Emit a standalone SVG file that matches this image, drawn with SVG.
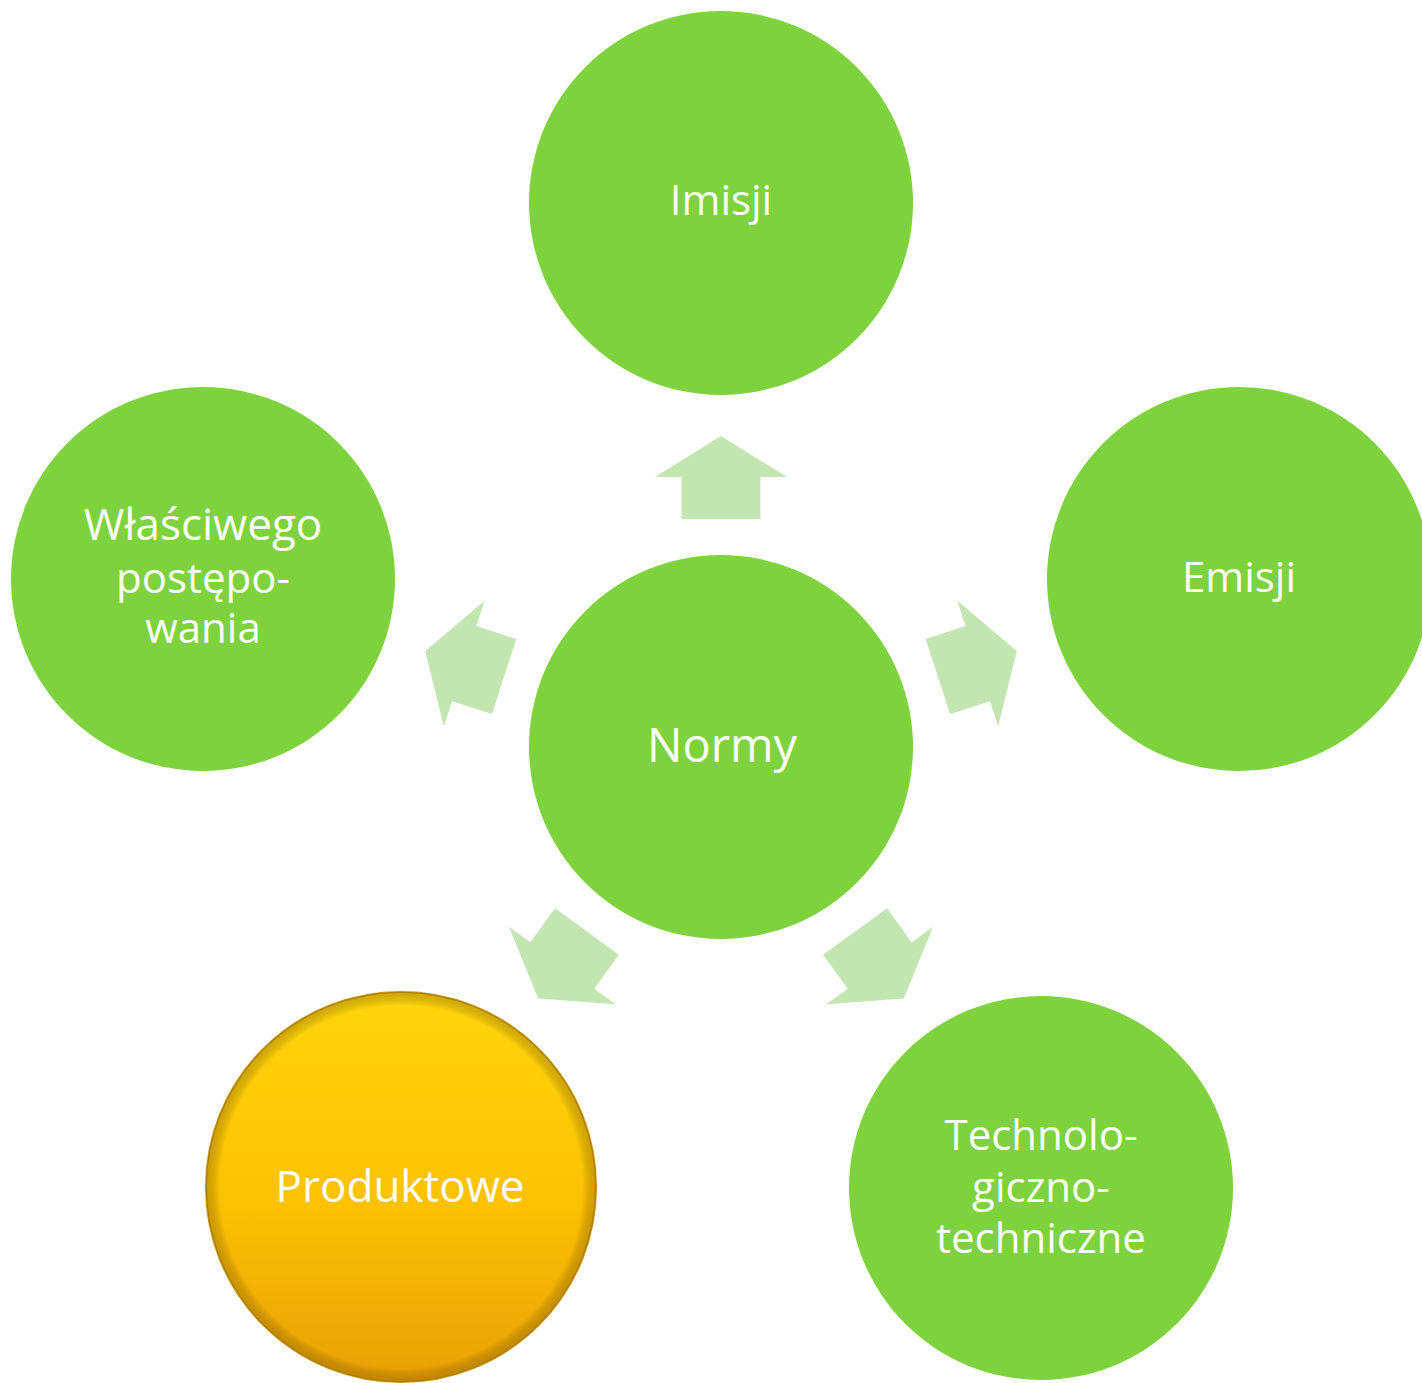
<svg xmlns="http://www.w3.org/2000/svg" width="1422" height="1383" viewBox="0 0 1422 1383">
<defs>
<style>
.node{fill:#7ED23D}
.lbl{fill:#FFFFFF;font-family:"Open Sans","Liberation Sans",sans-serif;font-size:42px;text-anchor:middle}
.big{font-size:47px}
.arr{fill:#C3E5B1}
</style>
<path id="arrowShape" d="M0,-311 L66,-270 L39.5,-270 L39.5,-228 L-39.5,-228 L-39.5,-270 L-66,-270 Z"/>
<linearGradient id="yel" x1="0" y1="0" x2="0" y2="1">
<stop offset="0" stop-color="#FFD60C"/>
<stop offset="0.55" stop-color="#FBC102"/>
<stop offset="1" stop-color="#E8A005"/>
</linearGradient>
<radialGradient id="bevel" cx="0.5" cy="0.5" r="0.5">
<stop offset="0.93" stop-color="#000" stop-opacity="0"/>
<stop offset="1" stop-color="#7a5500" stop-opacity="0.35"/>
</radialGradient>
</defs>
<rect width="1422" height="1383" fill="#FFFFFF"/>
<g id="connectors">
<use href="#arrowShape" class="arr" transform="translate(721,747)"/>
<use href="#arrowShape" class="arr" transform="translate(721,747) rotate(72)"/>
<use href="#arrowShape" class="arr" transform="translate(721,747) rotate(144)"/>
<use href="#arrowShape" class="arr" transform="translate(721,747) rotate(216)"/>
<use href="#arrowShape" class="arr" transform="translate(721,747) rotate(288)"/>
</g>
<g id="node-normy">
<circle class="node" cx="721" cy="747" r="192"/>
<text class="lbl big" x="722" y="762">Normy</text>
</g>
<g id="node-imisji">
<circle class="node" cx="721" cy="203" r="192"/>
<text class="lbl" x="721" y="215">Imisji</text>
</g>
<g id="node-emisji">
<circle class="node" cx="1239" cy="579" r="192"/>
<text class="lbl" x="1239" y="592">Emisji</text>
</g>
<g id="node-technologiczno">
<circle class="node" cx="1041" cy="1188" r="192"/>
<text class="lbl" x="1041" y="1150">Technolo-</text>
<text class="lbl" x="1041" y="1202">giczno-</text>
<text class="lbl" x="1041" y="1253">techniczne</text>
</g>
<g id="node-produktowe">
<circle cx="401" cy="1187" r="195" fill="url(#yel)" stroke="#C8940A" stroke-width="2"/>
<circle cx="401" cy="1187" r="195" fill="url(#bevel)"/>
<text class="lbl" x="400" y="1202" style="font-size:44px">Produktowe</text>
</g>
<g id="node-wlasciwego">
<circle class="node" cx="203" cy="579" r="192"/>
<text class="lbl" x="203" y="540" style="font-size:44px">Właściwego</text>
<text class="lbl" x="203" y="593">postępo-</text>
<text class="lbl" x="203" y="643">wania</text>
</g>
</svg>
